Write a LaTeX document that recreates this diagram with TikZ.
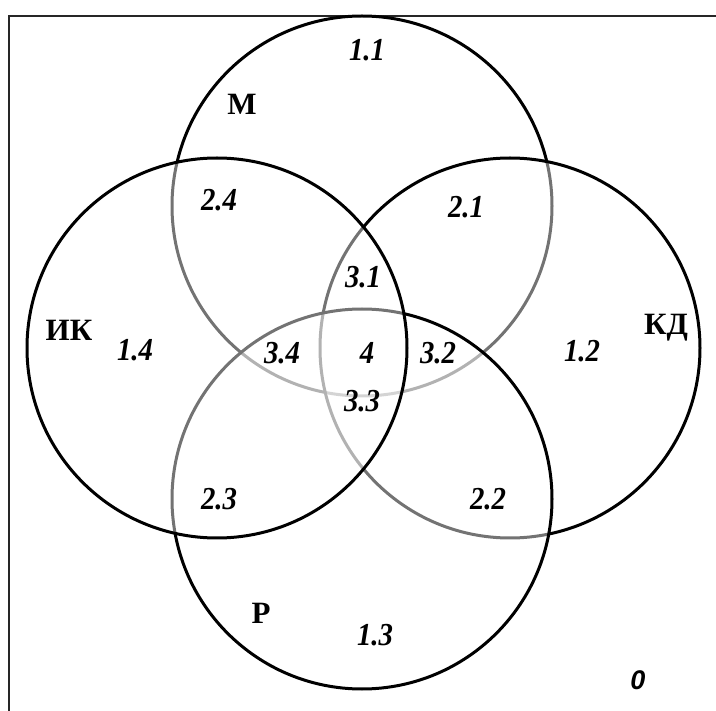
\documentclass[tikz,border=0pt]{standalone}
\usepackage{fontspec}
\setmainfont{Liberation Serif}
\newfontfamily\zerofont{Liberation Sans}
\begin{document}
\begin{tikzpicture}[x=1pt,y=-1pt,
  venn/.style={circle, draw=black, line width=3pt, fill=white, fill opacity=0.45, text opacity=1, minimum size=380pt, inner sep=0pt, outer sep=0pt},
  num/.style={inner sep=0pt, font=\fontsize{32}{32}\selectfont\bfseries\itshape},
  lab/.style={inner sep=0pt, font=\fontsize{31}{31}\selectfont\bfseries},
  frameline/.style={line width=1.5pt, draw=black!85}]
\useasboundingbox (0,0) rectangle (716,711);
% frame
\coordinate (fTR) at (716,16);
\coordinate (fTL) at (9,16);
\coordinate (fBL) at (9,711);
\draw[frameline] (fTR) -- (fTL) -- (fBL);
% circles (stacking order matters)
\node[venn] (M)  at (362,206) {};
\node[venn] (KD) at (510,348) {};
\node[venn] (P)  at (362,499) {};
\node[venn] (IK) at (217,348) {};
% set labels
\node[lab] (lM)  at (242,104) {М};
\node[lab] (lIK) at (69,330) {ИК};
\node[lab] (lKD) at (666,328) {КД};
\node[lab] (lP)  at (261,613) {Р};
% region numbers
\newcommand{\nn}[1]{\scalebox{0.9}[1]{#1}}
\node[num] (n11) at (367,50) {\nn{1.1}};
\node[num] (n24) at (219,200) {\nn{2.4}};
\node[num] (n21) at (466,207) {\nn{2.1}};
\node[num] (n31) at (363,277) {\nn{3.1}};
\node[num] (n14) at (135,350) {\nn{1.4}};
\node[num] (n34) at (282,353) {\nn{3.4}};
\node[num] (n4)  at (367,353) {\nn{4}};
\node[num] (n32) at (438,353) {\nn{3.2}};
\node[num] (n12) at (582,351) {\nn{1.2}};
\node[num] (n33) at (362,401) {\nn{3.3}};
\node[num] (n23) at (219,499) {\nn{2.3}};
\node[num] (n22) at (488,499) {\nn{2.2}};
\node[num] (n13) at (375,635) {\nn{1.3}};
\node[inner sep=0pt, font=\fontsize{27}{27}\selectfont\zerofont\bfseries\itshape] (n0) at (638,680) {0};
\end{tikzpicture}
\end{document}
